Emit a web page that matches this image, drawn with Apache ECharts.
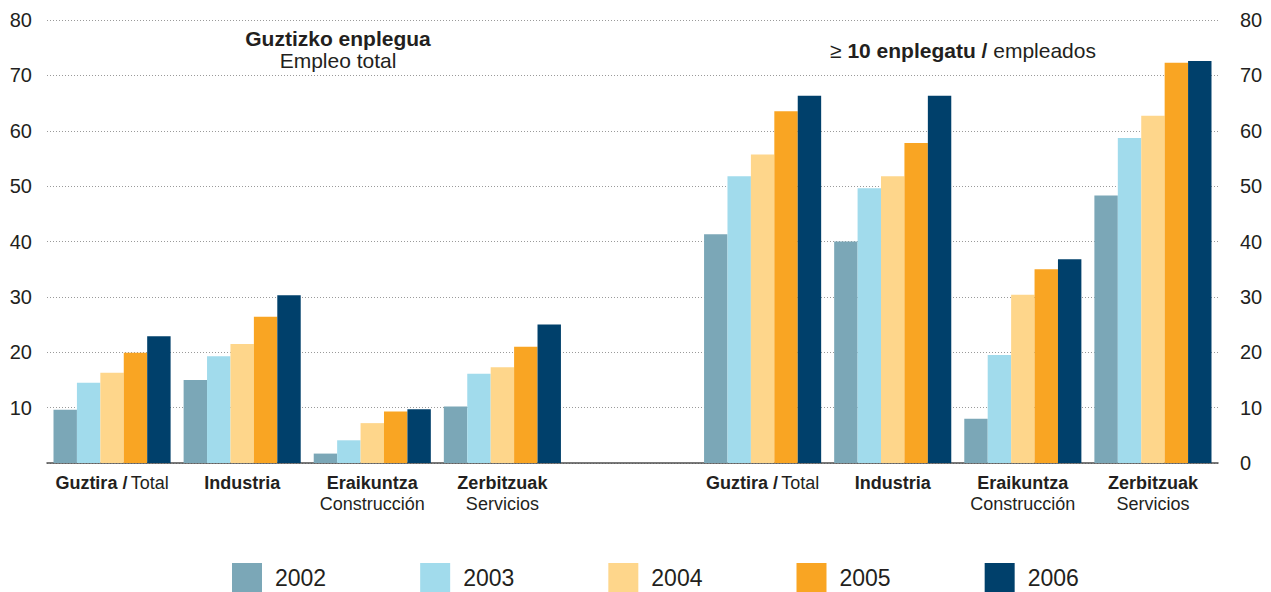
<!DOCTYPE html>
<html>
<head>
<meta charset="utf-8">
<script src="https://cdn.jsdelivr.net/npm/echarts@6/dist/echarts.min.js"></script>
<style>
html,body{margin:0;padding:0;background:#fff;}
#chart{width:1271px;height:592px;}
</style>
</head>
<body>
<div id="chart"></div>
<script>
// ---- data ----
const categories = ['Guztira / Total','Industria','Eraikuntza / Construcción','Zerbitzuak / Servicios','',
                    'Guztira / Total ','Industria ','Eraikuntza / Construcción ','Zerbitzuak / Servicios '];
const labelBold  = ['Guztira /','Industria','Eraikuntza','Zerbitzuak','','Guztira /','Industria','Eraikuntza','Zerbitzuak'];
const labelPlain = ['Total','','Construcción','Servicios','','Total','','Construcción','Servicios'];
const plainInline = [true,false,false,false,false,true,false,false,false];
const years = ['2002','2003','2004','2005','2006'];
const v2002 = [9.6, 15.0, 1.7, 10.2, '-', 41.3, 40.0, 8.0, 48.3];
const v2003 = [14.5, 19.3, 4.1, 16.1, '-', 51.8, 49.6, 19.5, 58.7];
const v2004 = [16.3, 21.5, 7.2, 17.3, '-', 55.7, 51.8, 30.4, 62.7];
const v2005 = [19.9, 26.4, 9.3, 21.0, '-', 63.5, 57.8, 35.0, 72.3];
const v2006 = [22.9, 30.3, 9.7, 25.0, '-', 66.3, 66.3, 36.8, 72.6];
const yTicks = [0,10,20,30,40,50,60,70,80];
const colors = ['#7ba7b7','#a1dbec','#fed68b','#f9a523','#00406b'];

const seriesValues = [v2002, v2003, v2004, v2005, v2006];
const FONT = '"Liberation Sans", Arial, Helvetica, sans-serif';

const chart = echarts.init(document.getElementById('chart'), null, {renderer:'svg'});
const yAxisBase = {
  type:'value', min:yTicks[0], max:yTicks[yTicks.length-1], interval:10,
  axisLine:{show:false}, axisTick:{show:false}
};
chart.setOption({
  animation:false,
  backgroundColor:'#fff',
  color: colors,
  textStyle:{fontFamily:FONT},
  grid:{left:47, right:53, top:20, bottom:129, containLabel:false},
  legend:{
    data: years, left:232, top:563, padding:0, itemWidth:30, itemHeight:29, icon:'rect',
    itemGap:94,
    textStyle:{fontSize:23, color:'#231f20', fontFamily:FONT, padding:[0,0,0,8]}
  },
  graphic:[
    {type:'text', x:338, y:27, silent:true,
     style:{text:'{b|Guztizko enplegua}\n{n|Empleo total}', align:'center', verticalAlign:'top',
       rich:{b:{fontSize:21, fontWeight:'bold', fill:'#231f20', fontFamily:FONT, lineHeight:22, align:'center'},
             n:{fontSize:21, fill:'#231f20', fontFamily:FONT, lineHeight:22, align:'center'}}}},
    {type:'text', x:963, y:39, silent:true,
     style:{text:'{n|≥ }{b|10 enplegatu /}{n| empleados}', align:'center', verticalAlign:'top',
       rich:{b:{fontSize:21, fontWeight:'bold', fill:'#231f20', fontFamily:FONT, lineHeight:22},
             n:{fontSize:21, fill:'#231f20', fontFamily:FONT, lineHeight:22}}}}
  ],
  xAxis:{
    type:'category', data:categories,
    axisLine:{show:true, lineStyle:{color:'#4d4d4d', width:1.5}},
    axisTick:{show:false},
    axisLabel:{
      interval:0, margin:9,
      formatter:function(v, i){
        const b = labelBold[i], n = labelPlain[i];
        if(!b) return '';
        if(!n) return '{b|' + b + '}';
        if(plainInline[i]) return '{b|' + b + '} {n|' + n + '}';
        return '{b|' + b + '}\n{n|' + n + '}';
      },
      rich:{
        b:{fontSize:18, fontWeight:'bold', color:'#231f20', fontFamily:FONT, lineHeight:21},
        n:{fontSize:18, color:'#231f20', fontFamily:FONT, lineHeight:21}
      }
    }
  },
  yAxis:[
    Object.assign({}, yAxisBase, {
      position:'left',
      axisLabel:{fontSize:20, color:'#231f20', margin:15, fontFamily:FONT,
        formatter:function(v){ return v === 0 ? '' : String(v); }},
      splitLine:{show:true, lineStyle:{color:'#9a9a9a', type:[1,2], width:1}}
    }),
    Object.assign({}, yAxisBase, {
      position:'right',
      axisLabel:{fontSize:20, color:'#231f20', margin:22, fontFamily:FONT},
      splitLine:{show:false}
    })
  ],
  series: years.map(function(y, k){
    return {
      name:y, type:'bar', yAxisIndex:0, data:seriesValues[k],
      barGap:'0%', barCategoryGap:'10%',
      itemStyle:{color:colors[k]}
    };
  })
});
</script>
</body>
</html>
